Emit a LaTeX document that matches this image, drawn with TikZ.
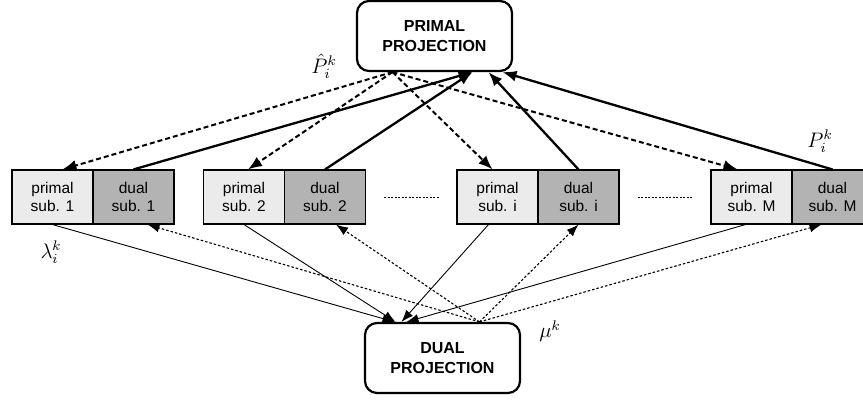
\documentclass[tikz,border=0pt]{standalone}
\usepackage{fontspec}
\setsansfont{Liberation Sans}
\usetikzlibrary{arrows.meta}
\definecolor{primfill}{HTML}{EBEBEB}
\definecolor{dualfill}{HTML}{B3B3B3}
\tikzset{
  proj/.style={draw, line width=2.2pt, rounded corners=12pt, minimum width=155pt,
    minimum height=70pt, align=center, font=\sffamily\bfseries\fontsize{16}{20}\selectfont},
  subpart/.style={draw, line width=1.1pt, minimum width=81pt, minimum height=54pt,
    inner sep=0pt, align=center, font=\sffamily\fontsize{15.5}{18.5}\selectfont},
  primpart/.style={subpart, fill=primfill},
  dualpart/.style={subpart, fill=dualfill},
  upsolid/.style={line width=2.3pt, -{Latex[length=14pt,width=11pt]}},
  downdash/.style={line width=2pt, dash pattern=on 5pt off 3pt, -{Latex[length=14pt,width=11pt]}},
  todual/.style={line width=0.9pt, -{Latex[length=12pt,width=9pt]}},
  fromdual/.style={line width=1.1pt, dash pattern=on 2.5pt off 2pt, -{Latex[length=12pt,width=9pt]}},
  lbl/.style={font=\large, scale=1.75}
}
\begin{document}
\begin{tikzpicture}[x=1pt, y=-1pt]
    \useasboundingbox (0,0) rectangle (863,401);

    % Draw the two projection nodes
    \node[proj] (prim) at (434.5,36) {PRIMAL\\PROJECTION};
    \node[proj] (dual) at (442.5,358) {DUAL\\PROJECTION};

    % Draw the subproblem boxes
    \node[primpart] (p1) at (52.5,197) {primal\\sub. 1};
    \node[dualpart] (d1) at (133.5,197) {dual\\sub. 1};
    \node[primpart] (p2) at (244,197) {primal\\sub. 2};
    \node[dualpart] (d2) at (325,197) {dual\\sub. 2};
    \node[primpart] (pI) at (497.5,197) {primal\\sub. i};
    \node[dualpart] (dI) at (578.5,197) {dual\\sub. i};
    \node[primpart] (pM) at (751.5,197) {primal\\sub. M};
    \node[dualpart] (dM) at (832.5,197) {dual\\sub. M};

    % Dots between the boxes
    \draw[line width=0.9pt, dash pattern=on 2pt off 1.5pt] ([xshift=18pt]d2.east) -- ([xshift=-17pt]pI.west);
    \draw[line width=0.9pt, dash pattern=on 2pt off 1.5pt] ([xshift=18pt]dI.east) -- ([xshift=-18pt]pM.west);

    % Draw edges from the primal projection to the primal subproblems
    \draw[downdash] ([xshift=-42pt]prim.south) -- ([xshift=10pt]p1.north);
    \draw[downdash] ([xshift=-42pt]prim.south) -- ([xshift=4pt]p2.north);
    \draw[downdash] ([xshift=-42pt]prim.south) -- ([xshift=-5pt]pI.north);
    \draw[downdash] ([xshift=-42pt]prim.south) -- ([xshift=-14pt]pM.north);

    % Draw edges from the dual subproblems back to the primal projection
    \draw[upsolid] (d1.north) -- ([xshift=38pt]prim.south);
    \draw[upsolid] (d2.north) -- ([xshift=38pt]prim.south);
    \draw[upsolid] (dI.north) -- ([xshift=54pt]prim.south);
    \draw[upsolid] (dM.north) -- ([xshift=68pt]prim.south);

    % Draw edges from the primal subproblems to the dual projection
    \draw[todual] (p1.south) -- ([xshift=-48pt]dual.north);
    \draw[todual] (p2.south) -- ([xshift=-47pt]dual.north);
    \draw[todual] ([xshift=-9pt]pI.south) -- ([xshift=-41pt]dual.north);
    \draw[todual] ([xshift=-6pt]pM.south) -- ([xshift=-36pt]dual.north);

    % Draw edges from the dual projection to the dual subproblems
    \draw[fromdual] ([xshift=37pt]dual.north) -- ([xshift=14pt]d1.south);
    \draw[fromdual] ([xshift=37pt]dual.north) -- ([xshift=11pt]d2.south);
    \draw[fromdual] ([xshift=37pt]dual.north) -- (dI.south);
    \draw[fromdual] ([xshift=37pt]dual.north) -- ([xshift=-11pt]dM.south);

    % Labels
    \node[lbl] (phat) at (324,66) {$\hat{P}_i^k$};
    \node[lbl] (pik) at (820,141) {$P_i^k$};
    \node[lbl] (lam) at (51,252) {$\lambda_i^k$};
    \node[lbl] (mu) at (550,331) {$\mu^k$};
\end{tikzpicture}
\end{document}
